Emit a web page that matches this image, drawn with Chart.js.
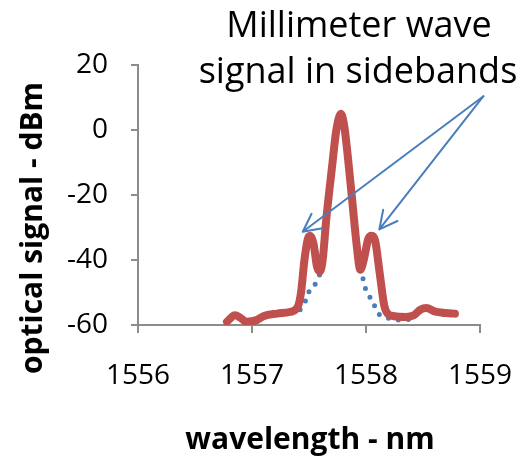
<!DOCTYPE html>
<html>
<head>
<meta charset="utf-8">
<script src="https://cdn.jsdelivr.net/npm/chart.js@4"></script>
<style>
  body { margin: 0; background: #fff; }
  canvas { display: block; }
</style>
</head>
<body>
<canvas id="spectrumChart" width="529" height="457"></canvas>
<script>
// spectrum with sidebands (red) and carrier only (blue dotted)
const redWavelength = [1556.78, 1556.85, 1556.90, 1556.95, 1557.04, 1557.10, 1557.22, 1557.33, 1557.40, 1557.43,
    1557.46, 1557.49, 1557.51, 1557.54, 1557.57, 1557.595, 1557.62, 1557.65, 1557.70, 1557.74,
    1557.78, 1557.81, 1557.84, 1557.88, 1557.92, 1557.95, 1557.98, 1558.02, 1558.05, 1558.08,
    1558.12, 1558.16, 1558.19, 1558.25, 1558.35, 1558.42, 1558.48, 1558.53, 1558.60, 1558.70, 1558.78];
const redPower = [-59, -57, -57.8, -59, -58.5, -57.3, -56.5, -56, -54.5, -50,
    -40, -33.5, -32.5, -35, -42, -43.5, -40, -28, -12, 0,
    5, 1, -8, -22, -36, -43, -40, -33.5, -32.5, -34,
    -44, -54, -56.5, -57.3, -57.5, -57, -55.2, -54.8, -55.8, -56.3, -56.5];

const blueWavelength = [1556.78, 1556.85, 1556.90, 1556.95, 1557.04, 1557.10, 1557.22, 1557.33, 1557.40, 1557.46,
    1557.50, 1557.56, 1557.62, 1557.65, 1557.70, 1557.74, 1557.78, 1557.81, 1557.84, 1557.88,
    1557.92, 1557.98, 1558.01, 1558.06, 1558.09, 1558.15, 1558.25, 1558.34, 1558.42, 1558.48,
    1558.53, 1558.60, 1558.70, 1558.78];
const bluePower = [-59, -57, -57.8, -59, -58.5, -57.3, -56.8, -56.3, -55.9, -53.3,
    -49.7, -47, -40, -28, -12, 0, 5, 1, -8, -22,
    -36, -46.7, -50.3, -52.5, -55.6, -57.3, -58.3, -58.5, -57.5, -55.5,
    -55, -56.2, -56.8, -56.8];

const xMin = 1556, xMax = 1559, xStep = 1;
const yMin = -60, yMax = 20, yStep = 20;

const noteLines = ['Millimeter wave', 'signal in sidebands'];
const xTitle = 'wavelength - nm';
const yTitle = 'optical signal - dBm';

// arrows, in data units: shared tail, one head per sideband
const arrowTail = { x: 1559.03, y: 10.4 };
const arrowHeads = [{ x: 1557.445, y: -31.3 }, { x: 1558.117, y: -30.6 }];

const toPoints = (xs, ys) => xs.map((x, i) => ({ x: x, y: ys[i] }));

const notesPlugin = {
    id: 'notes',
    afterDraw(chart) {
        const ctx = chart.ctx;
        const xs = chart.scales.x, ys = chart.scales.y;
        ctx.save();
        ctx.fillStyle = '#000';

        ctx.font = '36px "Open Sans"';
        ctx.textAlign = 'center';
        ctx.textBaseline = 'alphabetic';
        ctx.fillText(noteLines[0], 359, 37);
        ctx.fillText(noteLines[1], 358, 83);

        ctx.font = 'bold 30px "Open Sans"';
        ctx.fillText(xTitle, 310, 449);

        ctx.save();
        ctx.translate(42, 228);
        ctx.rotate(-Math.PI / 2);
        ctx.fillText(yTitle, 0, 0);
        ctx.restore();

        ctx.strokeStyle = '#4a7ebb';
        ctx.lineWidth = 2;
        ctx.lineCap = 'round';
        const tx = xs.getPixelForValue(arrowTail.x), ty = ys.getPixelForValue(arrowTail.y);
        arrowHeads.forEach(h => {
            const hx = xs.getPixelForValue(h.x), hy = ys.getPixelForValue(h.y);
            const ang = Math.atan2(ty - hy, tx - hx);
            ctx.beginPath();
            ctx.moveTo(tx, ty);
            ctx.lineTo(hx, hy);
            [-0.47, 0.47].forEach(d => {
                ctx.moveTo(hx, hy);
                ctx.lineTo(hx + 20 * Math.cos(ang + d), hy + 20 * Math.sin(ang + d));
            });
            ctx.stroke();
        });
        ctx.restore();
    }
};

document.addEventListener('DOMContentLoaded', function() {
    const ctx = document.getElementById('spectrumChart').getContext('2d');
    new Chart(ctx, {
        type: 'line',
        data: {
            datasets: [{
                label: 'with sidebands',
                data: toPoints(redWavelength, redPower),
                borderColor: '#c0504d',
                borderWidth: 8,
                pointRadius: 0,
                cubicInterpolationMode: 'monotone',
                borderJoinStyle: 'round',
                borderCapStyle: 'round'
            }, {
                label: 'carrier',
                data: toPoints(blueWavelength, bluePower),
                borderColor: '#4a7ebb',
                borderWidth: 5,
                borderDash: [0, 10],
                borderCapStyle: 'round',
                pointRadius: 0,
                cubicInterpolationMode: 'monotone'
            }]
        },
        options: {
            responsive: false,
            devicePixelRatio: 1,
            animation: false,
            layout: { padding: { top: 65, right: 49, left: 0, bottom: 0 } },
            plugins: {
                legend: { display: false },
                tooltip: { enabled: false }
            },
            scales: {
                x: {
                    type: 'linear',
                    min: xMin,
                    max: xMax,
                    afterFit: s => { s.height = 132; s.paddingLeft = 0; s.paddingRight = 0; },
                    border: { color: '#8c8c8c', width: 2 },
                    grid: { drawOnChartArea: false, tickLength: 8, color: '#8c8c8c', lineWidth: 2 },
                    ticks: {
                        stepSize: xStep,
                        padding: 26,
                        maxRotation: 0,
                        minRotation: 0,
                        color: '#000',
                        font: { family: 'Open Sans', size: 28 },
                        callback: v => String(v)
                    }
                },
                y: {
                    min: yMin,
                    max: yMax,
                    afterFit: s => { s.width = 138; s.paddingTop = 0; s.paddingBottom = 0; },
                    border: { color: '#8c8c8c', width: 2 },
                    grid: { drawOnChartArea: false, tickLength: 7, color: '#8c8c8c', lineWidth: 2 },
                    ticks: {
                        stepSize: yStep,
                        padding: 23,
                        color: '#000',
                        font: { family: 'Open Sans', size: 28 },
                        callback: v => String(v)
                    }
                }
            }
        },
        plugins: [notesPlugin]
    });
});
</script>
</body>
</html>
